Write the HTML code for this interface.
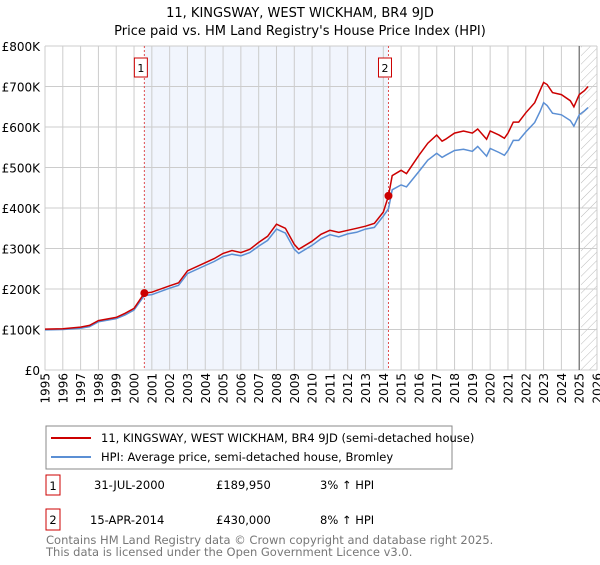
<!DOCTYPE html>
<html><head><meta charset="utf-8"><style>
body{margin:0;background:#fff;font-family:"Liberation Sans","DejaVu Sans",sans-serif;}
svg text{font-family:"DejaVu Sans","Liberation Sans",sans-serif;}
</style></head><body>
<svg id="chart" width="600" height="560" xmlns="http://www.w3.org/2000/svg">
<defs><pattern id="hatch" width="6" height="6" patternUnits="userSpaceOnUse" patternTransform="rotate(45)"><line x1="0" y1="0" x2="0" y2="6" stroke="#bbb" stroke-width="1"/></pattern></defs>
<text x="300" y="17" text-anchor="middle" font-size="13">11, KINGSWAY, WEST WICKHAM, BR4 9JD</text>
<text x="300" y="35" text-anchor="middle" font-size="13">Price paid vs. HM Land Registry's House Price Index (HPI)</text>
<g id="plot"></g>
<g>
<rect x="46" y="426" width="406" height="43" fill="#fff" stroke="#888"/>
<line x1="51" y1="438" x2="91" y2="438" stroke="#cc0000" stroke-width="2"/>
<text x="101" y="442" font-size="11.5">11, KINGSWAY, WEST WICKHAM, BR4 9JD (semi-detached house)</text>
<line x1="51" y1="457" x2="91" y2="457" stroke="#5b8fd4" stroke-width="2"/>
<text x="101" y="461" font-size="11.5">HPI: Average price, semi-detached house, Bromley</text>
</g>
<g font-size="11.5">
<rect x="46" y="475" width="14" height="20" fill="#fff" stroke="#cc0000"/><text x="53" y="490" text-anchor="middle">1</text>
<text x="94" y="489">31-JUL-2000</text><text x="216" y="489">£189,950</text><text x="320" y="489">3% ↑ HPI</text>
</g>
<g font-size="11.5">
<rect x="46" y="509" width="14" height="21" fill="#fff" stroke="#cc0000"/><text x="53" y="524" text-anchor="middle">2</text>
<text x="90" y="524">15-APR-2014</text><text x="216" y="524">£430,000</text><text x="320" y="524">8% ↑ HPI</text>
</g>
<text x="46" y="544" font-size="11.5" fill="#777">Contains HM Land Registry data © Crown copyright and database right 2025.</text>
<text x="46" y="556" font-size="11.5" fill="#777">This data is licensed under the Open Government Licence v3.0.</text>
</svg>
<script>
const yTicks=[0,100,200,300,400,500,600,700,800];
const yTickLabels=["£0","£100K","£200K","£300K","£400K","£500K","£600K","£700K","£800K"];
const xYears=[1995,1996,1997,1998,1999,2000,2001,2002,2003,2004,2005,2006,2007,2008,2009,2010,2011,2012,2013,2014,2015,2016,2017,2018,2019,2020,2021,2022,2023,2024,2025,2026];
const dates=[1995,1996,1997,1997.5,1998,1999,1999.5,2000,2000.58,2001,2002,2002.5,2003,2004,2004.5,2005,2005.5,2006,2006.5,2007,2007.5,2008,2008.5,2009,2009.25,2010,2010.5,2011,2011.5,2012,2012.5,2013,2013.5,2014,2014.29,2014.5,2015,2015.3,2016,2016.5,2017,2017.3,2017.5,2018,2018.5,2019,2019.3,2019.8,2020,2020.5,2020.8,2021,2021.3,2021.6,2022,2022.5,2022.8,2023,2023.2,2023.5,2024,2024.5,2024.7,2025,2025.3,2025.5];
const priceSeries=[101,102,106,110,122,130,140,152,190,192,208,215,245,265,275,288,295,290,298,315,330,360,350,310,298,318,335,345,340,345,350,355,362,390,430,480,493,485,530,560,580,565,570,585,590,585,595,570,590,580,572,585,612,612,635,660,690,710,705,685,680,665,650,680,690,700];
const hpiSeries=[99,100,103,107,119,127,136,148,184,186,202,209,238,258,268,280,286,282,290,306,320,348,338,298,288,308,324,334,329,336,340,348,352,380,398,445,457,452,490,518,535,525,530,542,545,540,552,528,547,537,530,542,567,567,588,611,638,660,653,634,630,616,602,630,640,648];
const saleDates=[2000.58,2014.29];
const salePrices=[189.95,430];
const saleLabels=["1","2"];
const L=45,R=597,T=46,B=370;
const x=d=>L+(d-1995)/31*(R-L);
const y=v=>B-v/800*(B-T);
const NS="http://www.w3.org/2000/svg";
const g=document.getElementById('plot');
function mk(t,a){const e=document.createElementNS(NS,t);for(const k in a)e.setAttribute(k,a[k]);g.appendChild(e);return e;}
let e=mk('rect',{x:L,y:T,width:R-L,height:B-T,fill:'#fff'});


e=mk('rect',{x:x(saleDates[0]),y:T,width:x(saleDates[1])-x(saleDates[0]),height:B-T,fill:'#eef3fc',opacity:0.8});


e=mk('rect',{x:x(2025.1),y:T,width:R-x(2025.1),height:B-T,fill:'url(#hatch)'});


xYears.forEach(yr=>{const l=mk('line',{x1:x(yr),y1:T,x2:x(yr),y2:B,stroke:'#ccc','stroke-width':1});


const t=mk('text',{x:0,y:0,'text-anchor':'end','font-size':12,transform:'translate('+(x(yr)+4.5).toFixed(1)+',373) rotate(-90)'});t.textContent=yr;

});
yTicks.forEach((v,i)=>{const l=mk('line',{x1:L,y1:y(v),x2:R,y2:y(v),stroke:'#ccc','stroke-width':1});


const t=mk('text',{x:40,y:y(v)+5,'text-anchor':'end','font-size':12});t.textContent=yTickLabels[i];

});
e=mk('line',{x1:x(2025),y1:T,x2:x(2025),y2:B,stroke:'#555','stroke-width':1});


saleDates.forEach((d,i)=>{const l=mk('line',{x1:x(d),y1:T,x2:x(d),y2:B,stroke:'#e05050','stroke-dasharray':'2,2','stroke-width':1});


const r=mk('rect',{x:x(d)-10,y:58,width:13,height:19,fill:'#fff',stroke:'#cc0000'});


const t=mk('text',{x:x(d)-3.5,y:72,'text-anchor':'middle','font-size':11});t.textContent=saleLabels[i];

});
function path(vals,col,name){const p=mk('path',{d:vals.map((v,i)=>(i?'L':'M')+x(dates[i]).toFixed(1)+','+y(v).toFixed(1)).join(''),fill:'none',stroke:col,'stroke-width':1.5});

}
path(hpiSeries,'#5b8fd4','hpi-line');
path(priceSeries,'#cc0000','price-line');
saleDates.forEach((d,i)=>{const c=mk('circle',{cx:x(d),cy:y(salePrices[i]),r:4,fill:'#cc0000'});

});
</script>
</body></html>
